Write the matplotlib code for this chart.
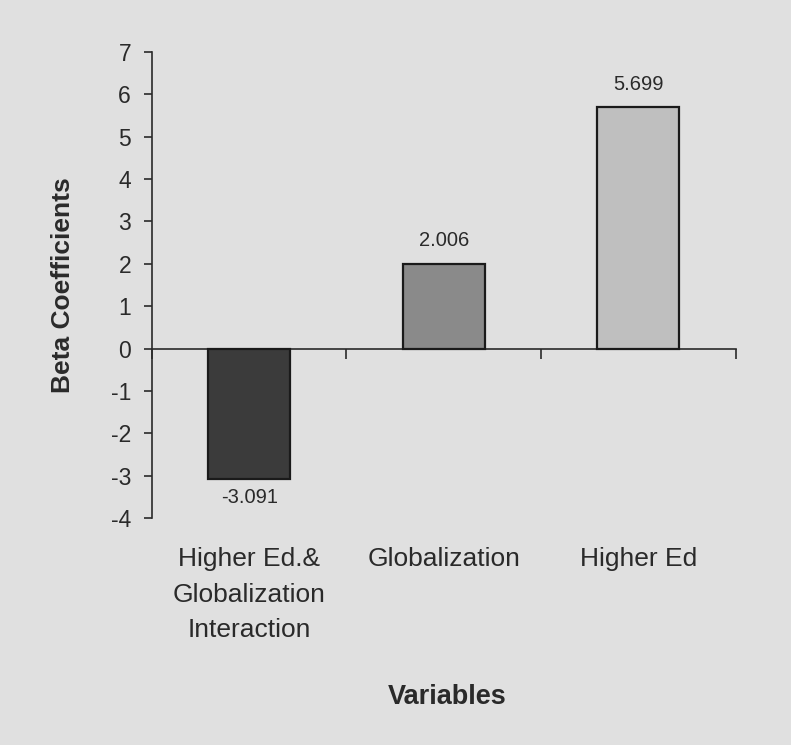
import matplotlib.pyplot as plt
import matplotlib.transforms as mtransforms
import numpy as np

plt.rcParams['font.family'] = ['Liberation Sans', 'DejaVu Sans']

################### DATA
categories = ["Higher Ed.&\nGlobalization\nInteraction", "Globalization", "Higher Ed"]
betas = [-3.091, 2.006, 5.699]
value_labels = ["-3.091", "2.006", "5.699"]
bar_colors = ['#3b3b3b', '#8a8a8a', '#bfbfbf']
y_ticks = list(range(-4, 8))

bg = '#e0e0e0'
ink = '#2a2a2a'

fig = plt.figure(figsize=(7.91, 7.45), dpi=100, facecolor=bg)
ax = fig.add_axes([0.192, 0.3047, 0.738, 0.6255], facecolor=bg)

x = np.arange(len(betas))
ax.bar(x, betas, width=0.42, color=bar_colors, edgecolor='#1a1a1a', linewidth=1.6, zorder=3)

ax.set_xlim(-0.5, len(betas) - 0.5)
ax.set_ylim(-4, 7)
ax.set_yticks(y_ticks)
ax.set_yticklabels([str(t) for t in y_ticks])

# axis lines: y on the left, x at zero
for s in ['top', 'right']:
    ax.spines[s].set_visible(False)
ax.spines['bottom'].set_position(('data', 0))
ax.spines['left'].set_color(ink); ax.spines['bottom'].set_color(ink)
ax.spines['left'].set_linewidth(1.2); ax.spines['bottom'].set_linewidth(1.2)

ax.set_xticks(np.arange(len(betas) + 1) - 0.5)
ax.set_xticklabels([])
ax.tick_params(axis='x', direction='out', length=7, width=1.2, color=ink)
ax.tick_params(axis='y', direction='out', length=6, width=1.2, color=ink,
               labelsize=16.5, labelcolor=ink, pad=9)

# value labels (offsets in points, ~0.72 pt per px)
for xi, v, lab in zip(x, betas, value_labels):
    dy = 16.5 if v >= 0 else -13
    ax.annotate(lab, (xi, v), xytext=(0, dy), textcoords='offset points',
                ha='center', va='center', fontsize=14.5, color=ink)

# category names under the plot area
trans = mtransforms.blended_transform_factory(ax.transData, ax.transAxes)
for xi, name in zip(x, categories):
    ax.text(xi, -0.062, name, transform=trans, ha='center', va='top',
            fontsize=19, color=ink, linespacing=1.62)

fig.text(0.080, 0.617, "Beta Coefficients", rotation=90, ha='center', va='center',
         fontsize=19, fontweight='bold', color=ink)
fig.text(0.565, 0.064, "Variables", ha='center', va='center',
         fontsize=19.5, fontweight='bold', color=ink)

fig.savefig("out.png", dpi=100, facecolor=bg)
